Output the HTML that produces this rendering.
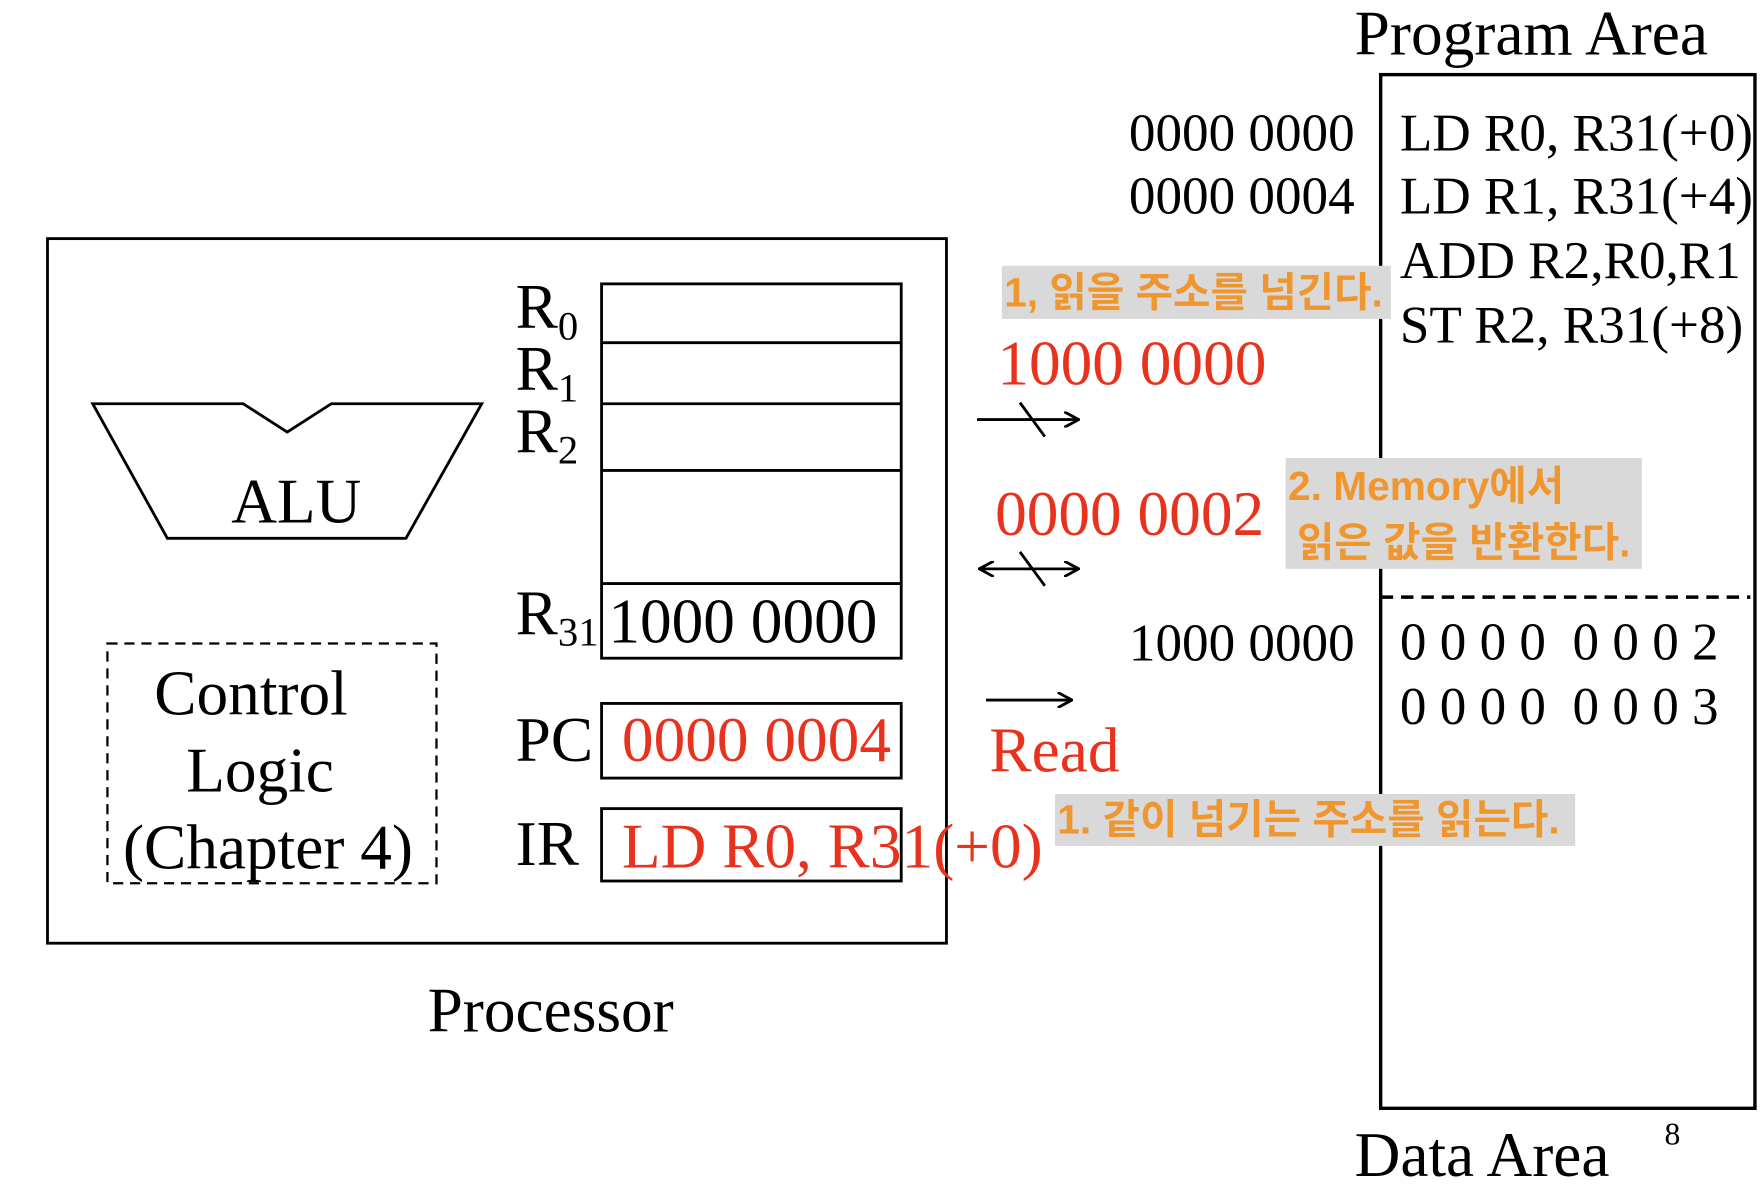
<!DOCTYPE html>
<html><head><meta charset="utf-8"><style>
html,body{margin:0;padding:0;background:#fff;}
svg{display:block;}
.s{font-family:"Liberation Serif",serif;fill:#000;}
.r{fill:#e8321e;}
.o{font-family:"Liberation Sans","Noto Sans CJK KR",sans-serif;font-weight:bold;fill:#f0962e;font-size:36px;}
</style></head><body>
<svg width="1764" height="1192" viewBox="0 0 1560 1054" preserveAspectRatio="none" xmlns="http://www.w3.org/2000/svg">
<defs><marker id="a" markerWidth="14" markerHeight="14" refX="13" refY="7" orient="auto" markerUnits="userSpaceOnUse"><path d="M0,0 L13,7 L0,14" fill="none" stroke="#000" stroke-width="2.5"/></marker>
<marker id="b" markerWidth="14" markerHeight="14" refX="1" refY="7" orient="auto" markerUnits="userSpaceOnUse"><path d="M14,0 L1,7 L14,14" fill="none" stroke="#000" stroke-width="2.5"/></marker></defs>
<g fill="none" stroke="#000" stroke-width="2.5">
<rect x="42" y="211" width="795" height="623"/>
<polygon points="82,357 215,357 254,382 293,357 426,357 359,476 148,476"/>
<rect x="532" y="251" width="265" height="331"/>
<line x1="532" y1="303" x2="797" y2="303"/><line x1="532" y1="357" x2="797" y2="357"/>
<line x1="532" y1="416" x2="797" y2="416"/><line x1="532" y1="516" x2="797" y2="516"/>
<rect x="532" y="622" width="265" height="66"/>
<rect x="532" y="715" width="265" height="64"/>
<rect x="95" y="569" width="291" height="212" stroke-dasharray="9,6" stroke-width="2"/>
<rect x="1221" y="66" width="331" height="914" stroke-width="3"/>
<line x1="1221" y1="528" x2="1548" y2="528" stroke-dasharray="11,7" stroke-width="3"/>
<line x1="864" y1="371" x2="954" y2="371" marker-end="url(#a)"/>
<line x1="902" y1="356" x2="924" y2="386"/>
<line x1="866" y1="503" x2="954" y2="503" marker-end="url(#a)" marker-start="url(#b)"/>
<line x1="902" y1="488" x2="924" y2="518"/>
<line x1="872" y1="619" x2="948" y2="619" marker-end="url(#a)"/>
</g>
<rect x="886" y="235" width="344" height="47" fill="#d9d9d9"/>
<rect x="1137" y="405" width="315" height="98" fill="#d9d9d9"/>
<rect x="933" y="702" width="460" height="46" fill="#d9d9d9"/>
<g class="s" font-size="56">
<text x="262" y="462" text-anchor="middle">ALU</text>
<text x="456" y="290">R<tspan font-size="36" dy="10">0</tspan></text>
<text x="456" y="345">R<tspan font-size="36" dy="10">1</tspan></text>
<text x="456" y="400">R<tspan font-size="36" dy="10">2</tspan></text>
<text x="456" y="561">R<tspan font-size="36" dy="10">31</tspan></text>
<text x="538" y="568">1000 0000</text>
<text x="456" y="673">PC</text>
<text x="456" y="765">IR</text>
<text class="r" x="550" y="673">0000 0004</text>
<text class="r" x="550" y="767">LD R0, R31(+0)</text>
<text x="222" y="632" text-anchor="middle">Control</text>
<text x="230" y="700" text-anchor="middle">Logic</text>
<text x="237" y="768" text-anchor="middle">(Chapter 4)</text>
<text x="487" y="912" text-anchor="middle">Processor</text>
<text x="1198" y="48">Program Area</text>
<text x="1198" y="1040">Data Area</text>
<text x="1472" y="1012" font-size="28">8</text>
<g font-size="47">
<text x="1198" y="133" text-anchor="end">0000 0000</text>
<text x="1198" y="189" text-anchor="end">0000 0004</text>
<text x="1198" y="584" text-anchor="end">1000 0000</text>
<text x="1238" y="133">LD R0, R31(+0)</text>
<text x="1238" y="189">LD R1, R31(+4)</text>
<text x="1238" y="246">ADD R2,R0,R1</text>
<text x="1238" y="303">ST R2, R31(+8)</text>
<text x="1238" y="583" xml:space="preserve">0 0 0 0  0 0 0 2</text>
<text x="1238" y="640" xml:space="preserve">0 0 0 0  0 0 0 3</text>
</g>
<text class="r" x="882" y="340">1000 0000</text>
<text class="r" x="880" y="473">0000 0002</text>
<text class="r" x="875" y="682">Read</text>
</g>
<text class="o" x="888" y="271">1, 읽을 주소를 넘긴다.</text>
<text class="o" x="1139" y="442">2. Memory에서</text>
<text class="o" x="1147" y="492">읽은 값을 반환한다.</text>
<text class="o" x="935" y="737">1. 같이 넘기는 주소를 읽는다.</text>
</svg>
</body></html>
